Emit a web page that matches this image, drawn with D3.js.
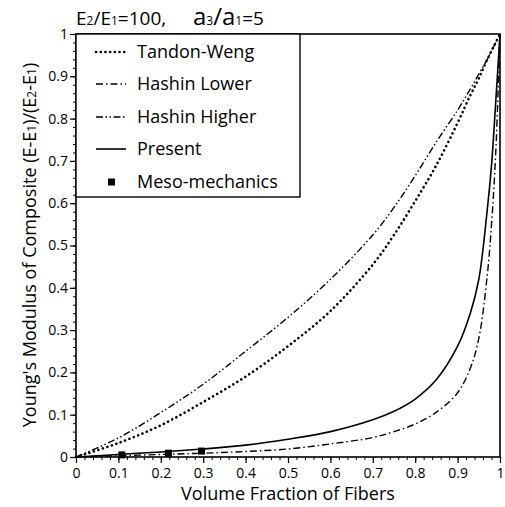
<!DOCTYPE html>
<html>
<head>
<meta charset="utf-8">
<script src="https://cdn.jsdelivr.net/npm/d3@7"></script>
<style>
body { margin: 0; background: #fff; }
svg { display: block; }
text { font-family: "Open Sans", "DejaVu Sans", sans-serif; fill: #000; }
</style>
</head>
<body>
<svg id="chart" width="505" height="507"></svg>
<script>
// ---- data ----
const fractions = [0, 0.1, 0.2, 0.3, 0.4, 0.5, 0.6, 0.7, 0.75, 0.8, 0.85, 0.9, 0.93, 0.95, 0.97, 0.98, 0.99, 1];
const tandonWeng   = [0, 0.033, 0.075, 0.13, 0.19, 0.262, 0.345, 0.455, 0.525, 0.605, 0.69, 0.79, 0.855, 0.895, 0.94, 0.96, 0.98, 1];
const hashinLower  = [0, 0.003, 0.006, 0.009, 0.013, 0.019, 0.031, 0.046, 0.06, 0.078, 0.106, 0.152, 0.21, 0.28, 0.43, 0.55, 0.72, 1];
const hashinHigher = [0, 0.045, 0.105, 0.172, 0.25, 0.33, 0.42, 0.525, 0.59, 0.665, 0.745, 0.82, 0.87, 0.905, 0.94, 0.96, 0.98, 1];
const present      = [0, 0.006, 0.012, 0.019, 0.028, 0.042, 0.06, 0.088, 0.108, 0.137, 0.183, 0.262, 0.34, 0.42, 0.585, 0.69, 0.84, 1];
const mesoX = [0.108, 0.218, 0.296];
const mesoY = [0.005, 0.009, 0.014];
const tickValues = [0, 0.1, 0.2, 0.3, 0.4, 0.5, 0.6, 0.7, 0.8, 0.9, 1];
const tickLabels = ["0", "0.1", "0.2", "0.3", "0.4", "0.5", "0.6", "0.7", "0.8", "0.9", "1"];
const legendNames = ["Tandon-Weng", "Hashin Lower", "Hashin Higher", "Present", "Meso-mechanics"];

// ---- layout ----
const M = { left: 76, top: 34, w: 424, h: 423 };
const svg = d3.select("#chart");
const g = svg.append("g").attr("transform", `translate(${M.left},${M.top})`);
const x = d3.scaleLinear().domain([0, 1]).range([0, M.w]);
const y = d3.scaleLinear().domain([0, 1]).range([M.h, 0]);

const styles = [
  { data: tandonWeng,   dash: "0.1,4.6", width: 2.6, cap: "round" },
  { data: hashinLower,  dash: "7,3,1.5,3", width: 1.4, cap: "butt" },
  { data: hashinHigher, dash: "7,2.5,1.5,2.5,1.5,2.5", width: 1.4, cap: "butt" },
  { data: present,      dash: null, width: 1.6, cap: "butt" }
];

// minor ticks
const minor = d3.range(0, 1.0001, 0.02);
g.append("g").attr("transform", `translate(0,${M.h})`)
  .call(d3.axisBottom(x).tickValues(minor).tickSize(3).tickFormat(""))
  .call(s => s.select(".domain").remove());
g.append("g")
  .call(d3.axisLeft(y).tickValues(minor).tickSize(3).tickFormat(""))
  .call(s => s.select(".domain").remove());

// major axes
const xAxis = g.append("g").attr("transform", `translate(0,${M.h})`)
  .call(d3.axisBottom(x).tickValues(tickValues).tickSize(6).tickPadding(5)
    .tickFormat((d, i) => tickLabels[i]));
const yAxis = g.append("g")
  .call(d3.axisLeft(y).tickValues(tickValues).tickSize(6).tickPadding(2)
    .tickFormat((d, i) => tickLabels[i]));
[xAxis, yAxis].forEach(a => {
  a.selectAll("text").style("font-size", "14px").attr("fill", "#000");
  a.selectAll("line").attr("stroke", "#000").attr("stroke-width", 1.2);
  a.select(".domain").remove();
});

// frame
g.append("rect").attr("width", M.w).attr("height", M.h)
  .attr("fill", "none").attr("stroke", "#000").attr("stroke-width", 1.6);

// curves
const line = d3.line().x((d, i) => x(fractions[i])).y(d => y(d)).curve(d3.curveCatmullRom.alpha(0.5));
styles.forEach(s => {
  g.append("path").datum(s.data).attr("d", line)
    .attr("fill", "none").attr("stroke", "#000")
    .attr("stroke-width", s.width)
    .attr("stroke-linecap", s.cap)
    .attr("stroke-dasharray", s.dash);
});

// meso-mechanics squares
g.selectAll("rect.meso").data(mesoX).enter().append("rect").attr("class", "meso")
  .attr("x", (d) => x(d) - 3.5).attr("y", (d, i) => y(mesoY[i]) - 3.5)
  .attr("width", 7).attr("height", 7).attr("fill", "#000");

// legend
const lg = g.append("g");
lg.append("rect").attr("x", 0).attr("y", 0).attr("width", 224).attr("height", 163)
  .attr("fill", "#fff").attr("stroke", "#000").attr("stroke-width", 1.4);
const rowY = [18, 50, 83, 115, 148];
legendNames.forEach((name, i) => {
  if (i < 4) {
    const s = styles[i];
    lg.append("line").attr("x1", 20).attr("x2", 50).attr("y1", rowY[i]).attr("y2", rowY[i])
      .attr("stroke", "#000").attr("stroke-width", s.width)
      .attr("stroke-linecap", s.cap).attr("stroke-dasharray", s.dash);
  } else {
    lg.append("rect").attr("x", 32).attr("y", rowY[i] - 3.5).attr("width", 7).attr("height", 7).attr("fill", "#000");
  }
  lg.append("text").attr("x", 61).attr("y", rowY[i]).attr("dy", "0.35em")
    .style("font-size", "18px").text(name);
});

// title
const title = svg.append("text").attr("x", 76).attr("y", 25).style("font-size", "19px");
title.append("tspan").text("E");
title.append("tspan").style("font-size", "12px").text("2");
title.append("tspan").text("/E");
title.append("tspan").style("font-size", "12px").text("1");
title.append("tspan").text("=100,");
title.append("tspan").attr("x", 193).style("font-size", "24px").text("a");
title.append("tspan").style("font-size", "12px").text("3");
title.append("tspan").style("font-size", "24px").text("/a");
title.append("tspan").style("font-size", "12px").text("1");
title.append("tspan").style("font-size", "19px").text("=5");

// axis titles
svg.append("text").attr("x", 288).attr("y", 500).attr("text-anchor", "middle")
  .style("font-size", "18px").text("Volume Fraction of Fibers");
const yl = svg.append("text").attr("transform", "translate(36,245) rotate(-90)")
  .attr("text-anchor", "middle").style("font-size", "18px");
yl.append("tspan").text("Young's Modulus of Composite  (E-E");
yl.append("tspan").style("font-size", "12px").text("1");
yl.append("tspan").text(")/(E");
yl.append("tspan").style("font-size", "12px").text("2");
yl.append("tspan").text("-E");
yl.append("tspan").style("font-size", "12px").text("1");
yl.append("tspan").text(")");
</script>
</body>
</html>
